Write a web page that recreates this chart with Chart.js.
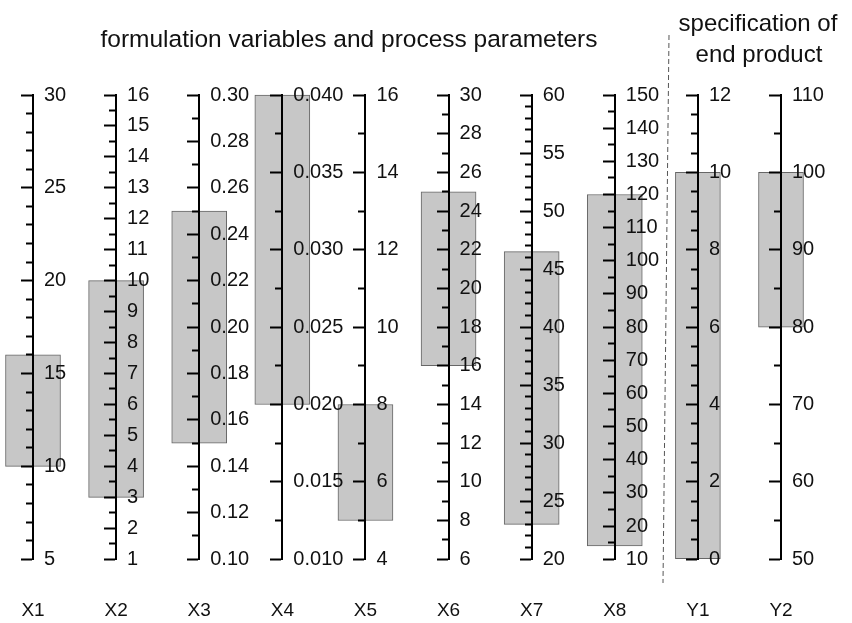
<!DOCTYPE html>
<html>
<head>
<meta charset="utf-8">
<script src="https://cdn.jsdelivr.net/npm/chart.js@4/dist/chart.umd.min.js"></script>
<style>
  html, body { margin: 0; padding: 0; background: #ffffff; }
  #wrap { width: 852px; height: 623px; }
</style>
</head>
<body>
<div id="wrap"><canvas id="c" width="852" height="623"></canvas></div>
<script>
// ---- data ----
const categories = ['X1', 'X2', 'X3', 'X4', 'X5', 'X6', 'X7', 'X8', 'Y1', 'Y2'];
const rangeLow   = [10, 3, 0.15, 0.020, 5, 16, 23, 14, 0, 80];
const rangeHigh  = [16, 10, 0.25, 0.040, 8, 25, 46.5, 120, 10, 100];
const axisMin    = [5, 1, 0.10, 0.010, 4, 6, 20, 10, 0, 50];
const axisMax    = [30, 16, 0.30, 0.040, 16, 30, 60, 150, 12, 110];
const majorStep  = [5, 1, 0.02, 0.005, 2, 2, 5, 10, 2, 10];
const minorStep  = [1, 0.5, 0.01, 0.0025, 1, 1, 1, 5, 0.5, 5];
const labelDecimals = [0, 0, 2, 3, 0, 0, 0, 0, 0, 0];
const titleLeft  = 'formulation variables and process parameters';
const titleRight = ['specification of', 'end product'];
const responseGroupStart = 8; // Y1, Y2 are end-product specifications

const FONT = '"Liberation Sans", Arial, Helvetica, sans-serif';

// Linear scale whose tick labels sit on the right of the axis line
// while its tick marks point to the left.
class SideLinearScale extends Chart.LinearScale {
  static id = 'sideLinear';
  static defaults = {};
  _computeLabelItems(chartArea) {
    const items = super._computeLabelItems(chartArea);
    const pos = this.options.position;
    const key = Object.keys(pos)[0];
    const axisPx = this.chart.scales[key].getPixelForValue(pos[key]);
    const gap = this.options.ticks.padding;
    items.forEach(it => {
      it.options.textAlign = 'left';
      it.options.translation[0] = axisPx + gap;
    });
    return items;
  }
}
Chart.register(SideLinearScale);

function isMajor(v, i) {
  const r = v / majorStep[i];
  return Math.abs(r - Math.round(r)) < 1e-6;
}

const scales = {
  x: {
    type: 'category',
    offset: false,
    grid: { display: true, drawOnChartArea: false, drawTicks: true, tickLength: 40, tickColor: 'rgba(0,0,0,0)', lineWidth: 0 },
    border: { display: false },
    ticks: { color: '#111', font: { family: FONT, size: 19 }, padding: 0, maxRotation: 0, autoSkip: false }
  }
};
categories.forEach((c, i) => {
  scales['y' + i] = {
    type: 'sideLinear',
    axis: 'y',
    position: { x: i },
    min: axisMin[i],
    max: axisMax[i],
    z: 1,
    grid: {
      z: 1,
      drawOnChartArea: false,
      drawTicks: true,
      tickLength: 11,
      tickWidth: 2,
      tickColor: '#000',
      tickBorderDash: ctx => (ctx.tick && isMajor(ctx.tick.value, i)) ? [] : [6, 40]
    },
    border: { display: true, color: '#000', width: 2, z: 1 },
    ticks: {
      z: 1,
      stepSize: minorStep[i],
      autoSkip: false,
      padding: 11,
      color: '#111',
      font: { family: FONT, size: 20 },
      callback: v => isMajor(v, i) ? Number(v).toFixed(labelDecimals[i]) : ''
    }
  };
});

const datasets = categories.map((c, i) => ({
  label: c,
  data: categories.map((_, j) => j === i ? [rangeLow[i], rangeHigh[i]] : null),
  xAxisID: 'x',
  yAxisID: 'y' + i,
  backgroundColor: '#c7c7c7',
  borderColor: '#666666',
  borderWidth: 1,
  borderSkipped: false,
  barThickness: i < responseGroupStart ? 55 : 45,
  grouped: false,
  clip: false
}));

const decor = {
  id: 'decor',
  afterDraw(chart) {
    const ctx = chart.ctx;
    ctx.save();
    ctx.fillStyle = '#111';
    ctx.font = '24.5px ' + FONT;
    ctx.textAlign = 'center';
    ctx.textBaseline = 'alphabetic';
    ctx.fillText(titleLeft, 349, 47);
    ctx.font = '24px ' + FONT;
    ctx.fillText(titleRight[0], 758, 31);
    ctx.fillText(titleRight[1], 759, 62);
    ctx.strokeStyle = '#555';
    ctx.lineWidth = 1;
    ctx.setLineDash([5, 3]);
    ctx.beginPath();
    ctx.moveTo(669, 35);
    ctx.lineTo(663, 583);
    ctx.stroke();
    ctx.restore();
  }
};

new Chart(document.getElementById('c'), {
  type: 'bar',
  data: { labels: categories, datasets },
  options: {
    responsive: false,
    animation: false,
    layout: { padding: { top: 95, left: 33, right: 71, bottom: 1 } },
    plugins: { legend: { display: false }, tooltip: { enabled: false }, title: { display: false } },
    scales
  },
  plugins: [decor]
});
</script>
</body>
</html>
